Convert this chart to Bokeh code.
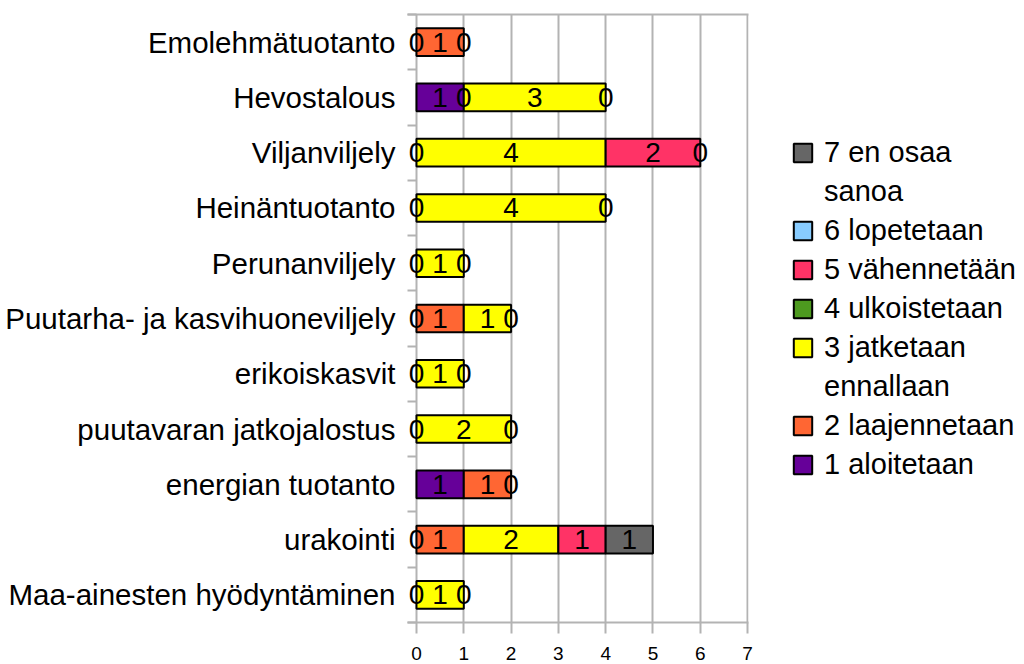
from bokeh.plotting import figure
from bokeh.models import (Range1d, FixedTicker, ColumnDataSource, LabelSet, Legend,
                          LegendItem, LinearAxis)
from bokeh.layouts import row
from bokeh.embed import file_html
from bokeh.resources import INLINE
from bokeh.core.properties import value
import numpy as np

categories = ["Emolehmätuotanto", "Hevostalous", "Viljanviljely", "Heinäntuotanto",
              "Perunanviljely", "Puutarha- ja kasvihuoneviljely", "erikoiskasvit",
              "puutavaran jatkojalostus", "energian tuotanto", "urakointi",
              "Maa-ainesten hyödyntäminen"]

# legend text per series, split into its two printed lines where it wraps
series_names = [["1 aloitetaan"], ["2 laajennetaan"], ["3 jatketaan", "ennallaan"],
                ["4 ulkoistetaan"], ["5 vähennetään"], ["6 lopetetaan"],
                ["7 en osaa", "sanoa"]]
colors = ["#660099", "#FF6633", "#FFFF00", "#4D9A1F", "#FF3366", "#88CCFF", "#666666"]

# None = no value (no label), 0 = zero value (label "0")
aloitetaan   = [0, 1, 0, 0, 0, 0, 0, 0, 1, 0, 0]
laajennetaan = [1, 0, None, None, None, 1, None, None, 1, 1, None]
jatketaan    = [0, 3, 4, 4, 1, 1, 1, 2, None, 2, 1]
ulkoistetaan = [None] * 11
vahennetaan  = [None, 0, 2, 0, 0, 0, 0, 0, 0, 1, 0]
lopetetaan   = [None] * 11
en_osaa      = [None, None, 0, None, None, None, None, None, None, 1, None]
series = [aloitetaan, laajennetaan, jatketaan, ulkoistetaan, vahennetaan, lopetetaan, en_osaa]

x_ticks = [0, 1, 2, 3, 4, 5, 6, 7]

FONT = "Liberation Sans"
GRID = "#b3b3b3"

n = len(categories)
ypos = [n - i - 0.5 for i in range(n)]

p = figure(width=780, height=664, x_range=Range1d(-0.19, 7.02), y_range=Range1d(0, n),
           output_backend="svg", toolbar_location=None,
           min_border_left=407, min_border_right=32, min_border_top=14, min_border_bottom=42)

cum = np.zeros(n)
lx, ly, lt = [], [], []
for vals, col in zip(series, colors):
    v = np.array([np.nan if x is None else x for x in vals], dtype=float)
    left = cum.copy()
    right = cum + np.nan_to_num(v)
    mask = np.nan_to_num(v) > 0
    src = ColumnDataSource(dict(y=np.array(ypos)[mask], left=left[mask], right=right[mask]))
    p.hbar(y="y", left="left", right="right", height=0.5, source=src,
           fill_color=col, line_color="black", line_width=2)
    for i in range(n):
        if not np.isnan(v[i]):
            lx.append(left[i] + v[i] / 2)
            ly.append(ypos[i])
            lt.append(str(int(v[i])))
    cum = right

lab_src = ColumnDataSource(dict(x=lx, y=ly, t=lt))
labels = LabelSet(x="x", y="y", text="t", source=lab_src, text_align="center",
                  text_baseline="middle", text_font=value(FONT), text_font_size="28px",
                  text_color="black")
p.add_layout(labels)

xa = p.below[0]
xa.ticker = FixedTicker(ticks=x_ticks)
xa.axis_line_color = GRID
xa.axis_line_width = 2
xa.major_tick_line_color = GRID
xa.major_tick_line_width = 2
xa.major_tick_out = 11
xa.major_tick_in = 0
xa.minor_tick_out = 0
xa.minor_tick_in = 0
xa.major_label_text_font = FONT
xa.major_label_text_font_size = "19px"
xa.major_label_text_color = "black"
xa.major_label_text_line_height = 0.9
xa.major_label_standoff = 13

# top border line
top_axis = LinearAxis(ticker=FixedTicker(ticks=[]), axis_line_color=GRID, axis_line_width=2,
                      major_tick_line_color=None, minor_tick_line_color=None,
                      major_label_text_font_size="0px", major_label_standoff=0,
                      major_tick_out=0, major_tick_in=0, minor_tick_out=0, minor_tick_in=0)
p.add_layout(top_axis, "above")

ya = p.left[0]
ya.ticker = FixedTicker(ticks=ypos, minor_ticks=list(range(n + 1)))
ya.major_label_overrides = {ypos[i]: categories[i] for i in range(n)}
ya.axis_line_color = None
ya.major_tick_out = 0
ya.major_tick_in = 0
ya.minor_tick_out = 0
ya.minor_tick_in = 9
ya.minor_tick_line_color = GRID
ya.minor_tick_line_width = 2
ya.major_label_text_font = FONT
ya.major_label_text_font_size = "29.5px"
ya.major_label_text_color = "black"
ya.major_label_standoff = 12

p.xgrid.grid_line_color = GRID
p.xgrid.grid_line_width = 2
p.ygrid.grid_line_color = None
p.outline_line_color = None

# legend panel
pl = figure(width=244, height=664, x_range=Range1d(0, 1), y_range=Range1d(0, 1),
            output_backend="svg", toolbar_location=None, min_border=0,
            x_axis_location=None, y_axis_location=None, outline_line_color=None)
pl.grid.visible = False

items = []
for k in reversed(range(7)):
    nan_src = ColumnDataSource(dict(y=[np.nan], left=[np.nan], right=[np.nan]))
    r = pl.hbar(y="y", left="left", right="right", height=0.5, source=nan_src,
                fill_color=colors[k], line_color="black", line_width=2)
    lines = series_names[k]
    items.append(LegendItem(label=lines[0], renderers=[r]))
    for extra in lines[1:]:
        r2 = pl.hbar(y="y", left="left", right="right", height=0.5, source=nan_src,
                     fill_alpha=0, line_alpha=0)
        items.append(LegendItem(label=extra, renderers=[r2]))

legend = Legend(items=items, location=(11, 141), margin=0, padding=0,
                border_line_color=None, background_fill_alpha=0,
                glyph_width=23, glyph_height=23, label_standoff=10, spacing=6,
                label_text_font=FONT, label_text_font_size="29px", label_text_color="black")
pl.add_layout(legend)

layout = row(p, pl, spacing=0)
open("out.html", "w").write(file_html(layout, INLINE))
